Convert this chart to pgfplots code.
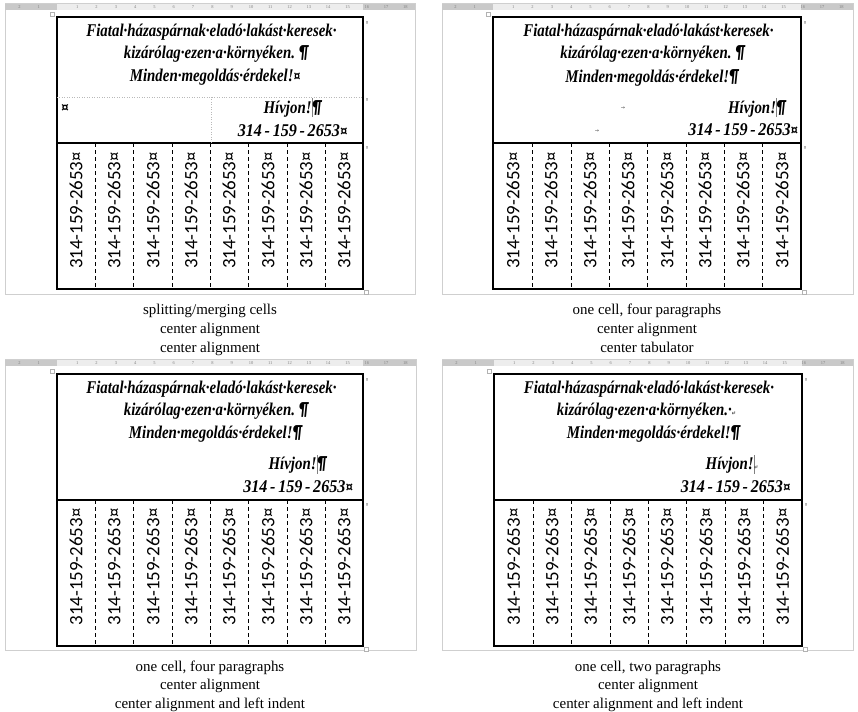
\documentclass[border=0pt]{standalone}
\usepackage{pgfplots}
\pgfplotsset{compat=1.18}
\usepackage{fontspec}
\setmainfont{Liberation Serif}
\newfontfamily\phfont{Carlito}
\newfontfamily\scrfont{Liberation Serif}
\newfontfamily\symfont{DejaVu Sans}
\definecolor{rulerbg}{HTML}{EDEDED}
\definecolor{rulerdark}{HTML}{C9C9C9}
\definecolor{winborder}{HTML}{CFCFCF}

\newcommand\scr{\scrfont\bfseries\itshape\fontsize{18}{18}\selectfont}
\newcommand\pil{{\phfont\bfseries\fontsize{19}{19}\selectfont ¶}}
\newcommand\cross{{\phfont\fontsize{16}{16}\selectfont ¤}}
\newcommand\cur{\textcolor{gray}{\rule[-4bp]{0.5bp}{19bp}}}
\newcommand\lbr{{\symfont\fontsize{6}{6}\selectfont\textcolor{darkgray}{↵}}}

\pgfplotsset{
  panel/.style={scale only axis, width=429bp, height=356bp,
    xmin=0, xmax=429, ymin=0, ymax=356, y dir=reverse,
    hide axis, clip=false, anchor=north west},
}
\tikzset{
  stxt/.style={anchor=base, inner sep=0pt, xscale=0.83},
  sph/.style={anchor=base, inner sep=0pt, xscale=0.9},
  scap/.style={anchor=base, inner sep=0pt, font=\fontsize{15}{15}\selectfont},
  rnum/.style={inner sep=0pt, font=\fontsize{4.5}{4.5}\selectfont, text=gray},
}

% #1 window left, #2 window right, #3 table left, #4 table right,
% #5 table top, #6 table bottom, #7 row divider
\newcommand\frameall[7]{%
  \addplot[draw=none, fill=white] coordinates {(0,0) (429,0) (429,356) (0,356)} -- cycle;
  \addplot[draw=winborder, line width=0.8bp, fill=white]
    coordinates {(#1,3.5) (#2,3.5) (#2,294.5) (#1,294.5)} -- cycle;
  \addplot[draw=none, fill=rulerbg]
    coordinates {(#1,3.5) (#2,3.5) (#2,9.5) (#1,9.5)} -- cycle;
  \addplot[draw=none, fill=rulerdark]
    coordinates {(#1,3.5) (#3,3.5) (#3,9.5) (#1,9.5)} -- cycle;
  \addplot[draw=none, fill=rulerdark]
    coordinates {(#4,3.5) (#2,3.5) (#2,9.5) (#4,9.5)} -- cycle;
  \pgfplotsinvokeforeach{1,2,3,4,5,6,7,8,9,10,11,12,13,14,15,16,17,18}{%
    \node[rnum] at (axis cs:{#3+1+19.3*##1},6.6) {##1};}
  \node[rnum] at (axis cs:{#3+1-19.3},6.6) {1};
  \node[rnum] at (axis cs:{#3+1-38.6},6.6) {2};
  \addplot[black, line width=1.1bp]
    coordinates {(#3,#5) (#4,#5) (#4,#6) (#3,#6)} -- cycle;
  \addplot[black, line width=1.1bp] coordinates {(#3,#7) (#4,#7)};
  \addplot[draw=gray!60, fill=white, line width=0.4bp]
    coordinates {(#4+1,#6+1) (#4+5,#6+1) (#4+5,#6+5) (#4+1,#6+5)} -- cycle;
  \addplot[draw=gray!60, fill=white, line width=0.4bp]
    coordinates {(#3-7,#5-5) (#3-3,#5-5) (#3-3,#5-1) (#3-7,#5-1)} -- cycle;
  \node[inner sep=0pt, font=\fontsize{5}{5}\selectfont] at (axis cs:{#4+4},{#5+6}) {¤};
  \node[inner sep=0pt, font=\fontsize{5}{5}\selectfont] at (axis cs:{#4+4},{#7+5}) {¤};
}
% #1 top, #2 bottom, #3 list of x
\newcommand\dashes[3]{%
  \pgfplotsinvokeforeach{#3}{%
    \addplot[black, line width=0.8bp, dash pattern=on 4bp off 3bp]
      coordinates {(##1,#1) (##1,#2)};}}
% #1 centre y, #2 list of x
\newcommand\phones[2]{%
  \pgfplotsinvokeforeach{#2}{%
    \node[rotate=90, inner sep=0pt, font=\phfont\fontsize{19}{19}\selectfont]
      at (axis cs:##1,#1) {314-159-2653¤};}}

\begin{document}
\begin{tikzpicture}

% ---------------- top left
\begin{axis}[panel, at={(0bp,0bp)}]
\frameall{5}{415}{57}{363}{17}{289}{143}
\addplot[gray!55, line width=0.5bp, dotted] coordinates {(57,97) (363,97)};
\addplot[gray!55, line width=0.5bp, dotted] coordinates {(211,97) (211,143)};
\node[inner sep=0pt, font=\fontsize{5}{5}\selectfont] at (axis cs:367,100) {¤};
\dashes{143}{289}{95,133,172,210,248,287,325}
\phones{210.5}{76,114,153,191,229,268,306,344}
\node[stxt] at (axis cs:211.5,36) {\scr Fiatal·házaspárnak·eladó·lakást·keresek·};
\node[stxt] at (axis cs:216,58) {\scr kizárólag·ezen·a·környéken.\ \pil};
\node[stxt] at (axis cs:215,81.5) {\scr Minden·megoldás·érdekel!\cross};
\node[inner sep=0pt, font=\phfont\bfseries\fontsize{15}{15}\selectfont] at (axis cs:65,108) {¤};
\node[stxt] at (axis cs:292.5,113) {\scr Hívjon!\cur\pil};
\node[sph] at (axis cs:292.5,136) {\scr 314\,-\,159\,-\,2653\cross};
\node[scap] at (axis cs:210,314) {splitting/merging cells};
\node[scap] at (axis cs:210,333) {center alignment};
\node[scap] at (axis cs:210,352) {center alignment};
\end{axis}

% ---------------- top right
\begin{axis}[panel, at={(429bp,0bp)}]
\frameall{13}{424}{64}{372}{17}{289}{143}
\dashes{143}{289}{103,142,180,218,257,295,333}
\phones{210.5}{84,122,161,199,238,276,314,353}
\node[stxt] at (axis cs:219.5,36) {\scr Fiatal·házaspárnak·eladó·lakást·keresek·};
\node[stxt] at (axis cs:223.5,58) {\scr kizárólag·ezen·a·környéken.\ \pil};
\node[stxt] at (axis cs:223,82) {\scr Minden·megoldás·érdekel!\pil};
\node[inner sep=0pt, font=\symfont\fontsize{5}{5}\selectfont, text=darkgray] at (axis cs:194,108) {→};
\node[inner sep=0pt, font=\symfont\fontsize{5}{5}\selectfont, text=darkgray] at (axis cs:168,131) {→};
\node[stxt, anchor=base east] at (axis cs:357,113) {\scr Hívjon!\cur\pil};
\node[sph, anchor=base east] at (axis cs:369,135) {\scr 314\,-\,159\,-\,2653\cross};
\node[scap] at (axis cs:218,314) {one cell, four paragraphs};
\node[scap] at (axis cs:218,333) {center alignment};
\node[scap] at (axis cs:218,352) {center tabulator};
\end{axis}

% ---------------- bottom left
\begin{axis}[panel, at={(0bp,-356bp)}]
\frameall{5}{416}{57}{363}{18}{290}{144}
\dashes{144}{290}{95,133,172,210,248,287,325}
\phones{211}{76,114,153,191,229,268,306,344}
\node[stxt] at (axis cs:211.5,37) {\scr Fiatal·házaspárnak·eladó·lakást·keresek·};
\node[stxt] at (axis cs:216,59) {\scr kizárólag·ezen·a·környéken.\ \pil};
\node[stxt] at (axis cs:215.5,82.5) {\scr Minden·megoldás·érdekel!\pil};
\node[stxt] at (axis cs:297.5,113.5) {\scr Hívjon!\cur\pil};
\node[sph] at (axis cs:298,136.5) {\scr 314\,-\,159\,-\,2653\cross};
\node[scap] at (axis cs:210,315) {one cell, four paragraphs};
\node[scap] at (axis cs:210,333) {center alignment};
\node[scap] at (axis cs:210,352) {center alignment and left indent};
\end{axis}

% ---------------- bottom right
\begin{axis}[panel, at={(429bp,-356bp)}]
\frameall{13}{424}{65}{373}{18}{290}{144}
\dashes{144}{290}{104,142,181,219,257,296,334}
\phones{211}{84.5,123,161.5,200,238,277,315,353.5}
\node[stxt] at (axis cs:220,37) {\scr Fiatal·házaspárnak·eladó·lakást·keresek·};
\node[stxt] at (axis cs:217.5,59) {\scr kizárólag·ezen·a·környéken.·\lbr};
\node[stxt] at (axis cs:224.5,82.5) {\scr Minden·megoldás·érdekel!\pil};
\node[stxt] at (axis cs:303,113.5) {\scr Hívjon!\cur\lbr};
\node[sph] at (axis cs:306.5,136.5) {\scr 314\,-\,159\,-\,2653\cross};
\node[scap] at (axis cs:219,315) {one cell, two paragraphs};
\node[scap] at (axis cs:219,333) {center alignment};
\node[scap] at (axis cs:219,352) {center alignment and left indent};
\end{axis}

\end{tikzpicture}
\end{document}
